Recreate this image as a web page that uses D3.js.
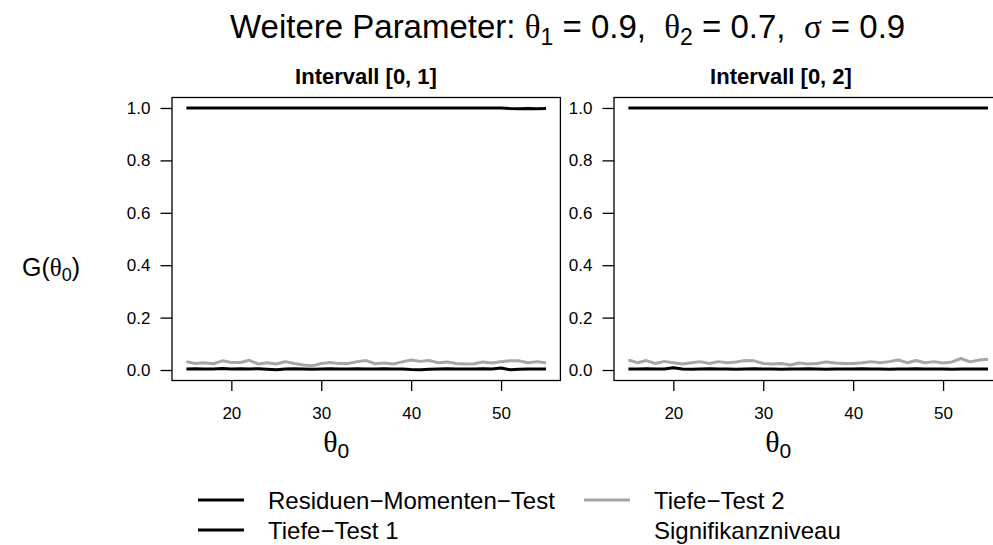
<!DOCTYPE html>
<html>
<head>
<meta charset="utf-8">
<script src="https://cdn.jsdelivr.net/npm/d3@7"></script>
<style>
  body { margin: 0; background: #fff; }
  svg { display: block; font-family: "Liberation Sans", Arial, sans-serif; }
  text { white-space: pre; }
</style>
</head>
<body>
<svg id="chart" width="993" height="545"></svg>
<script>
// theta_0 grid
const thetaValues = [15, 16, 17, 18, 19, 20, 21, 22, 23, 24, 25, 26, 27, 28, 29, 30, 31, 32, 33, 34, 35,
  36, 37, 38, 39, 40, 41, 42, 43, 44, 45, 46, 47, 48, 49, 50, 51, 52, 53, 54, 55];

// Intervall [0, 1]
const rmt1 = [1, 1, 1, 1, 1, 1, 1, 1, 1, 1, 1, 1, 1, 1, 1, 1, 1, 1, 1, 1, 1,
  1, 1, 1, 1, 1, 1, 1, 1, 1, 1, 1, 1, 1, 1, 1, 0.998, 0.997, 0.998, 0.997, 0.998];
const tiefe1_1 = [0.004, 0.005, 0.004, 0.004, 0.006, 0.004, 0.005, 0.004, 0.005, 0.003, 0.001, 0.004, 0.005, 0.004,
  0.003, 0.004, 0.005, 0.004, 0.004, 0.005, 0.004, 0.004, 0.005, 0.004, 0.004, 0.002, 0.001, 0.003, 0.004, 0.005,
  0.004, 0.004, 0.004, 0.005, 0.004, 0.008, 0.001, 0.003, 0.004, 0.004, 0.004];
const tiefe2_1 = [0.032, 0.025, 0.028, 0.024, 0.035, 0.029, 0.029, 0.037, 0.023, 0.028, 0.023, 0.032, 0.025, 0.019,
  0.016, 0.025, 0.029, 0.025, 0.025, 0.032, 0.036, 0.024, 0.027, 0.023, 0.031, 0.038, 0.033, 0.036, 0.028, 0.031,
  0.025, 0.023, 0.024, 0.031, 0.027, 0.032, 0.035, 0.035, 0.028, 0.032, 0.028];

// Intervall [0, 2]
const rmt2 = [1, 1, 1, 1, 1, 1, 1, 1, 1, 1, 1, 1, 1, 1, 1, 1, 1, 1, 1, 1, 1,
  1, 1, 1, 1, 1, 1, 1, 1, 1, 1, 1, 1, 1, 1, 1, 1, 1, 1, 1, 1];
const tiefe1_2 = [0.004, 0.004, 0.005, 0.004, 0.004, 0.009, 0.004, 0.003, 0.004, 0.005, 0.004, 0.004, 0.003, 0.004,
  0.005, 0.004, 0.004, 0.003, 0.004, 0.004, 0.005, 0.004, 0.003, 0.004, 0.004, 0.004, 0.005, 0.004, 0.004, 0.003,
  0.004, 0.004, 0.005, 0.004, 0.004, 0.004, 0.003, 0.004, 0.004, 0.004, 0.004];
const tiefe2_2 = [0.038, 0.028, 0.036, 0.025, 0.033, 0.028, 0.023, 0.028, 0.032, 0.025, 0.032, 0.028, 0.031, 0.036,
  0.035, 0.025, 0.023, 0.025, 0.019, 0.027, 0.023, 0.025, 0.031, 0.027, 0.025, 0.025, 0.028, 0.032, 0.028, 0.032,
  0.038, 0.028, 0.036, 0.028, 0.032, 0.027, 0.031, 0.044, 0.031, 0.038, 0.041];

const panelTitles = ['Intervall [0, 1]', 'Intervall [0, 2]'];
const xTicks = [20, 30, 40, 50];
const yTicks = [0, 0.2, 0.4, 0.6, 0.8, 1.0];
const legendLabels = ['Residuen\u2212Momenten\u2212Test', 'Tiefe\u2212Test 1', 'Tiefe\u2212Test 2', 'Signifikanzniveau'];

const BLACK = '#000';
const GREY = '#a6a6a6';
const GREEK = '"Liberation Serif", "DejaVu Serif", serif';

const svg = d3.select('#chart');

const panels = [
  { left: 172, titleX: 366, title: panelTitles[0], series: [rmt1, tiefe1_1, tiefe2_1] },
  { left: 614, titleX: 781, title: panelTitles[1], series: [rmt2, tiefe1_2, tiefe2_2] },
];
const boxW = 388.4;
const plotTop = 97.5;
const plotBottom = 380.5;

// R style 4% expansion of the axes
const yScale = d3.scaleLinear().domain([-0.04, 1.04]).range([plotBottom, plotTop]);

panels.forEach((p) => {
  const xScale = d3.scaleLinear().domain([13.4, 56.6]).range([p.left, p.left + boxW]);
  const g = svg.append('g');

  const line = d3.line()
    .x((d, i) => xScale(thetaValues[i]))
    .y((d) => yScale(d));

  const colors = [BLACK, BLACK, GREY];
  // grey first so the black lines lie on top
  [2, 0, 1].forEach((k) => {
    g.append('path')
      .datum(p.series[k])
      .attr('d', line)
      .attr('fill', 'none')
      .attr('stroke', colors[k])
      .attr('stroke-width', 3)
      .attr('stroke-linejoin', 'round');
  });

  g.append('rect')
    .attr('x', p.left)
    .attr('y', plotTop)
    .attr('width', boxW)
    .attr('height', plotBottom - plotTop)
    .attr('fill', 'none')
    .attr('stroke', '#000')
    .attr('stroke-width', 1.3);

  const yAxis = g.append('g')
    .attr('transform', `translate(${p.left},0)`)
    .call(d3.axisLeft(yScale).tickValues(yTicks).tickFormat(d3.format('.1f')).tickSize(11.5).tickPadding(10));
  const xAxis = g.append('g')
    .attr('transform', `translate(0,${plotBottom})`)
    .call(d3.axisBottom(xScale).tickValues(xTicks).tickSize(10.5).tickPadding(16));

  [yAxis, xAxis].forEach((ax) => {
    ax.select('.domain').remove();
    ax.selectAll('line').attr('stroke', '#000').attr('stroke-width', 1.3);
    ax.selectAll('text').attr('font-size', 17).attr('fill', '#000')
      .attr('font-family', '"Liberation Sans", Arial, sans-serif');
  });

  g.append('text')
    .attr('x', p.titleX)
    .attr('y', 84)
    .attr('text-anchor', 'middle')
    .attr('font-size', 22)
    .attr('font-weight', 'bold')
    .text(p.title);

  const xl = g.append('text')
    .attr('x', p.left + boxW / 2 - 30)
    .attr('y', 452)
    .attr('text-anchor', 'middle')
    .attr('font-size', 30);
  xl.append('tspan').attr('font-family', GREEK).text('\u03b8');
  xl.append('tspan').attr('font-size', 21).attr('dy', 6).text('0');
});

// y label
const yl = svg.append('text').attr('x', 22).attr('y', 276).attr('font-size', 25);
yl.append('tspan').text('G(');
yl.append('tspan').attr('font-family', GREEK).text('\u03b8');
yl.append('tspan').attr('font-size', 18).attr('dy', 5).text('0');
yl.append('tspan').attr('dy', -5).text(')');

// main title
const title = svg.append('text').attr('x', 230).attr('y', 38).attr('font-size', 33);
title.append('tspan').text('Weitere Parameter: ');
title.append('tspan').attr('font-family', GREEK).text('\u03b8');
title.append('tspan').attr('font-size', 23).attr('dy', 7).text('1');
title.append('tspan').attr('dy', -7).text(' = 0.9,  ');
title.append('tspan').attr('font-family', GREEK).text('\u03b8');
title.append('tspan').attr('font-size', 23).attr('dy', 7).text('2');
title.append('tspan').attr('dy', -7).text(' = 0.7,  ');
title.append('tspan').attr('font-family', GREEK).text('\u03c3');
title.append('tspan').text(' = 0.9');

// legend
const legendItems = [
  { label: legendLabels[0], color: BLACK, x: 198, y: 500 },
  { label: legendLabels[1], color: BLACK, x: 198, y: 530 },
  { label: legendLabels[2], color: GREY, x: 584, y: 500 },
  { label: legendLabels[3], color: null, x: 584, y: 530 },
];
const legend = svg.append('g');
legendItems.forEach((it) => {
  if (it.color) {
    legend.append('line')
      .attr('x1', it.x).attr('x2', it.x + 46)
      .attr('y1', it.y).attr('y2', it.y)
      .attr('stroke', it.color)
      .attr('stroke-width', 3);
  }
  legend.append('text')
    .attr('x', it.x + 70)
    .attr('y', it.y + 8.5)
    .attr('font-size', 24)
    .text(it.label);
});
</script>
</body>
</html>
